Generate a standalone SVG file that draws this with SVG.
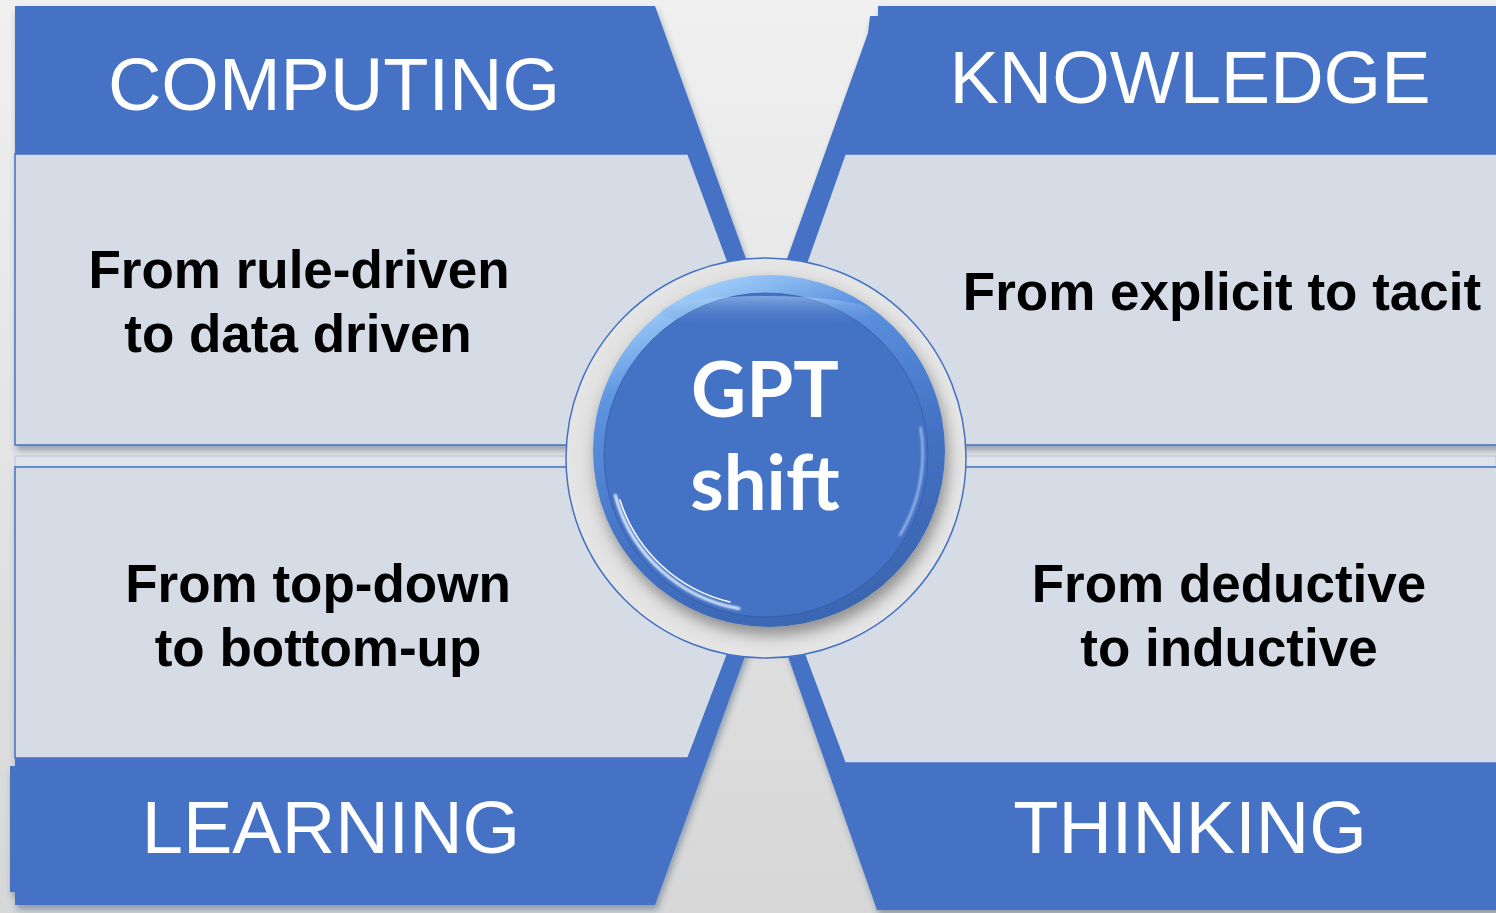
<svg xmlns="http://www.w3.org/2000/svg" width="1496" height="913" viewBox="0 0 1496 913">
  <defs>
    <linearGradient id="bg" x1="0" y1="0" x2="0" y2="1">
      <stop offset="0" stop-color="#f0f0f0"/>
      <stop offset="1" stop-color="#d7d7d7"/>
    </linearGradient>
    <radialGradient id="ringFill" cx="0.5" cy="0.5" r="0.5">
      <stop offset="0.8" stop-color="#d9d9d9"/>
      <stop offset="1" stop-color="#e6e6e6"/>
    </radialGradient>
    <linearGradient id="rim" x1="0.3" y1="0" x2="0.7" y2="1">
      <stop offset="0" stop-color="#a9d6fc"/>
      <stop offset="0.22" stop-color="#5d93e0"/>
      <stop offset="0.6" stop-color="#4472c4"/>
      <stop offset="1" stop-color="#3a64ae"/>
    </linearGradient>
    <linearGradient id="topHi" x1="0" y1="0" x2="0" y2="1">
      <stop offset="0" stop-color="#bfe0ff" stop-opacity="0.8"/>
      <stop offset="1" stop-color="#4472c4" stop-opacity="0"/>
    </linearGradient>
    <filter id="sh" x="-5%" y="-5%" width="110%" height="115%">
      <feDropShadow dx="2" dy="5" stdDeviation="3" flood-color="#2c4468" flood-opacity="0.4"/>
    </filter>
    <filter id="btnSh" x="-20%" y="-20%" width="140%" height="140%">
      <feDropShadow dx="3" dy="8" stdDeviation="7" flood-color="#000000" flood-opacity="0.35"/>
    </filter>
    <filter id="blur2"><feGaussianBlur stdDeviation="1.2"/></filter>
  </defs>
  <style>
    .blue { fill: #4472c4; }
    .panel { fill: #d6dce5; stroke: #4472c4; stroke-width: 1.5; }
    .head { font-family: "Liberation Sans", Arial, sans-serif; font-size: 74px; fill: #ffffff; text-anchor: middle; }
    .body { font-family: "Liberation Sans", Arial, sans-serif; font-weight: bold; font-size: 53px; fill: #000000; text-anchor: middle; }
    .gpt { font-family: Lato, "Open Sans", sans-serif; font-weight: bold; font-size: 76px; fill: #ffffff; text-anchor: middle; }
  </style>

  <rect x="0" y="0" width="1496" height="913" fill="url(#bg)"/>

  <rect x="15" y="456" width="1481" height="11" fill="#dfe3ea" stroke="#b9c6da" stroke-width="1"/>

  <g id="computing" filter="url(#sh)">
    <polygon class="panel" points="15,154 688,154 731,270 731,445 15,445"/>
    <polygon class="blue" points="15,6 655,6 750,270 731,270 688,154 15,154"/>
    <text class="head" x="334" y="110">COMPUTING</text>
  </g>

  <g id="knowledge" filter="url(#sh)">
    <polygon class="panel" points="845,154 1500,154 1500,445 801,445 804,270"/>
    <polygon class="blue" points="878,6 1500,6 1500,154 845,154 804,270 783,270 868,33 870,16 878,16"/>
    <text class="head" x="1190" y="103">KNOWLEDGE</text>
  </g>

  <g id="learning" filter="url(#sh)">
    <polygon class="panel" points="15,467 731,467 731,645 688,758 15,758"/>
    <polygon class="blue" points="731,645 749,645 655,905 15,905 15,892 10,892 10,766 15,766 15,758 688,758"/>
    <text class="head" x="331" y="853">LEARNING</text>
  </g>

  <g id="thinking" filter="url(#sh)">
    <polygon class="panel" points="801,467 1500,467 1500,763 845,763 801,645"/>
    <polygon class="blue" points="784,645 801,645 845,763 1500,763 1500,910 877,910"/>
    <text class="head" x="1190" y="853">THINKING</text>
  </g>

  <g id="texts">
    <text class="body" x="299" y="288">From rule-driven</text>
    <text class="body" x="298" y="352">to data driven</text>
    <text class="body" x="1222" y="310">From explicit to tacit</text>
    <text class="body" x="318" y="602">From top-down</text>
    <text class="body" x="318" y="666">to bottom-up</text>
    <text class="body" x="1229" y="602">From deductive</text>
    <text class="body" x="1229" y="666">to inductive</text>
  </g>

  <g id="gpt-shift">
    <circle cx="766" cy="458" r="200" fill="url(#ringFill)" stroke="#4472c4" stroke-width="1.5"/>
    <circle cx="769" cy="451" r="176" fill="url(#rim)" filter="url(#btnSh)"/>
    <circle cx="766" cy="455" r="162" fill="#4472c4" stroke="#2f5597" stroke-width="1" stroke-opacity="0.6"/>
    <ellipse cx="766" cy="312" rx="105" ry="16" fill="url(#topHi)" opacity="0.6"/>
    <path d="M 615.3 495.4 A 156 156 0 0 0 738.9 608.6" fill="none" stroke="#e8f4ff" stroke-width="3" stroke-linecap="round" filter="url(#blur2)"/>
    <path d="M 620 500 A 152 152 0 0 0 730 602" fill="none" stroke="#ffffff" stroke-width="1.5" stroke-linecap="round"/>
    <path d="M 920.6 427.7 A 157 157 0 0 1 900 535" fill="none" stroke="#dff0ff" stroke-width="2" stroke-linecap="round" stroke-opacity="0.7" filter="url(#blur2)"/>
    <text class="gpt" x="765" y="417">GPT</text>
    <text class="gpt" x="765" y="510">shift</text>
  </g>
</svg>
